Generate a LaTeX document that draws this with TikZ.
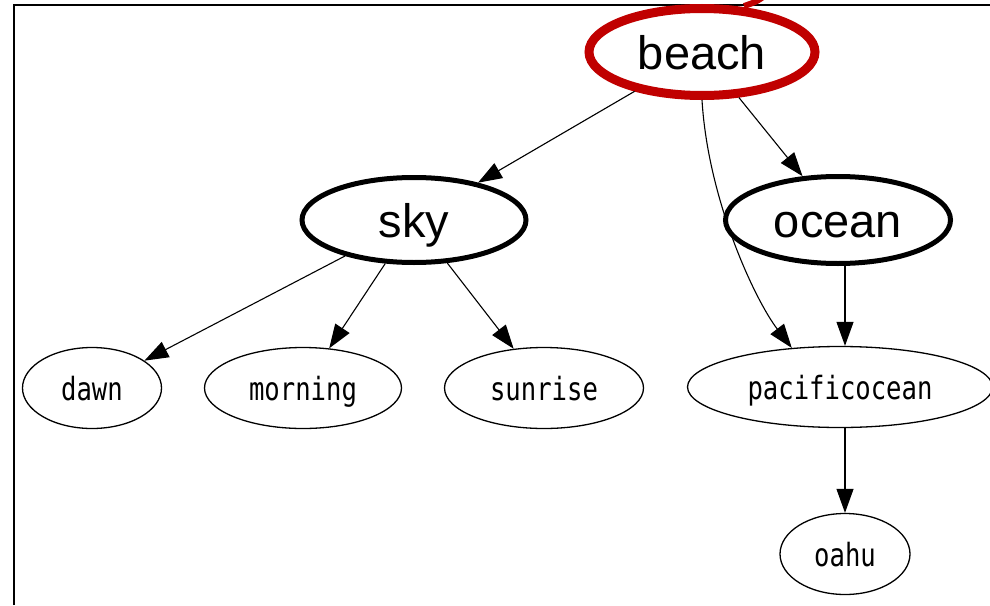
\documentclass[tikz,border=0pt]{standalone}
\usepackage{fontspec}
\setmainfont{Liberation Sans}
\newfontfamily\graphmono[FakeStretch=0.8]{DejaVu Sans Mono}
\usetikzlibrary{shapes.geometric, arrows.meta}
\definecolor{beachred}{RGB}{192,0,0}

\begin{document}
\begin{tikzpicture}[
        x=1pt, y=-1pt,
        every node/.style={ellipse, draw, inner sep=0pt, align=center},
        topic/.style={line width=5pt, font=\fontsize{47}{50}\selectfont, text height=34pt, text depth=0pt},
        word/.style={line width=1.3pt, font=\graphmono\fontsize{32}{34}\selectfont, text height=24pt, text depth=0pt, minimum height=81pt},
        edge/.style={-{Triangle[length=24pt, width=17pt]}, line width=1.1pt}
    ]
    \useasboundingbox (0,0) rectangle (990,605);
    \fill[white] (0,0) rectangle (990,605);
    % frame
    \draw[line width=2pt] (14,605) -- (14,5) -- (990,5);

    % Nodes
    \node (beach) at (702,52) [topic, draw=beachred, line width=9pt, minimum width=226pt, minimum height=87pt] {beach};
    \node (sky) at (414,220) [topic, minimum width=224pt, minimum height=85pt] {sky};
    \node (ocean) at (838,220) [topic, minimum width=225pt, minimum height=87pt] {ocean};
    \node (dawn) at (92,388) [word, minimum width=139pt] {dawn};
    \node (morning) at (303,388) [word, minimum width=197pt] {morning};
    \node (sunrise) at (544,388) [word, minimum width=199pt] {sunrise};
    \node (pacificocean) at (840,387) [word, minimum width=305pt] {pacificocean};
    \node (oahu) at (845,554) [word, minimum width=130pt] {oahu};

    % pen stroke past the top of the red ring
    \draw[beachred, line width=6pt] (744,6) .. controls (756,2) .. (766,-5);

    % Edges
    \draw[edge] (beach) -- (sky);
    \draw[edge] (beach) -- (ocean);
    \draw[edge] (beach.south) .. controls (708,200) and (755,300) .. (pacificocean.141);
    \draw[edge] (sky) -- (dawn);
    \draw[edge] (sky) -- (morning);
    \draw[edge] (sky) -- (sunrise);
    \draw[edge] (ocean.south -| oahu) -- (pacificocean.north -| oahu);
    \draw[edge] (pacificocean.south -| oahu) -- (oahu);
\end{tikzpicture}
\end{document}
